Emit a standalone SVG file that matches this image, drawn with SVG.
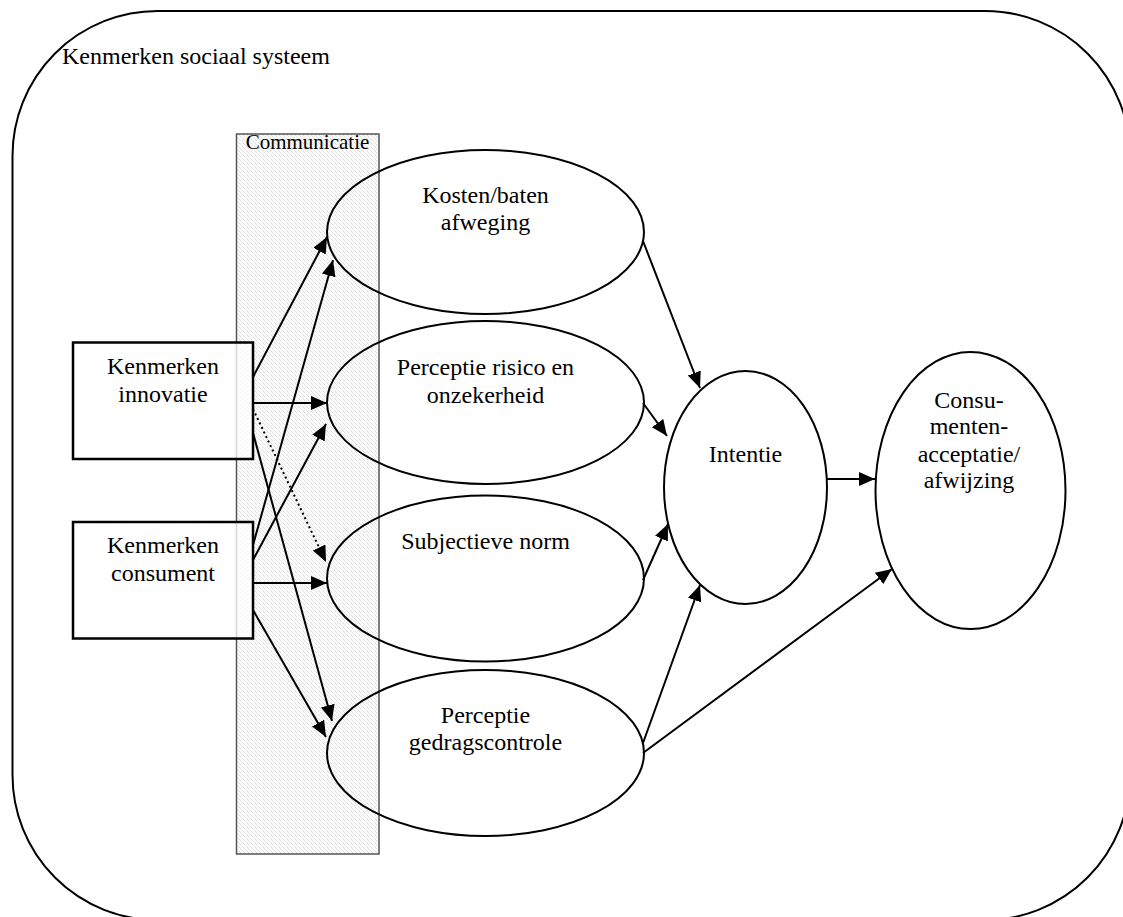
<svg xmlns="http://www.w3.org/2000/svg" width="1123" height="917" viewBox="0 0 1123 917">
<style>
.t{font-family:"Liberation Serif","Times New Roman",serif;font-size:24px;fill:#000;text-anchor:middle}
.node{fill:none;stroke:#000;stroke-width:2}
.box{fill:#fff;fill-opacity:0.75;stroke:#000;stroke-width:2.5}
.c{stroke:#000;stroke-width:2;fill:none}
.dot{stroke-dasharray:2,3}
</style>
<defs>
<pattern id="hatch" patternUnits="userSpaceOnUse" width="4" height="4">
<rect width="4" height="4" fill="#fbfbfb"/>
<path d="M-1,-1 L5,5" stroke="#bdbdbd" stroke-width="0.7" stroke-dasharray="1,1"/>
</pattern>
<marker id="ah" markerUnits="userSpaceOnUse" markerWidth="17" markerHeight="15" refX="16" refY="7" orient="auto">
<path d="M0,0 L16,7 L0,14 z" fill="#000"/>
</marker>
</defs>
<rect x="0" y="0" width="1123" height="917" fill="#fff"/>
<g id="sociaal-systeem">
<rect x="12.5" y="11" width="1117.5" height="909" rx="145" ry="145" fill="none" stroke="#000" stroke-width="2"/>
<text x="62" y="64" class="t" style="text-anchor:start">Kenmerken sociaal systeem</text>
</g>
<g id="communicatie">
<rect x="236.5" y="134" width="142.5" height="720" fill="url(#hatch)" stroke="#555" stroke-width="1.5"/>
<text x="307.5" y="149" class="t" style="font-size:21px">Communicatie</text>
</g>
<g id="kenmerken-innovatie">
<rect x="73" y="342.5" width="180" height="116.5" class="box"/>
<text x="163" y="374" class="t">Kenmerken</text>
<text x="163" y="401.5" class="t">innovatie</text>
</g>
<g id="kenmerken-consument">
<rect x="73" y="522" width="180" height="116.5" class="box"/>
<text x="163" y="553" class="t">Kenmerken</text>
<text x="163" y="580.5" class="t">consument</text>
</g>
<g id="kosten-baten">
<ellipse cx="485.5" cy="232" rx="158.5" ry="82" class="node"/>
<text x="485.5" y="203" class="t">Kosten/baten</text>
<text x="485.5" y="230" class="t">afweging</text>
</g>
<g id="perceptie-risico">
<ellipse cx="485.5" cy="402.5" rx="158.5" ry="81.5" class="node"/>
<text x="485.5" y="375" class="t">Perceptie risico en</text>
<text x="485.5" y="402.5" class="t">onzekerheid</text>
</g>
<g id="subjectieve-norm">
<ellipse cx="485.5" cy="578.5" rx="158.5" ry="83" class="node"/>
<text x="485.5" y="549" class="t">Subjectieve norm</text>
</g>
<g id="perceptie-gedragscontrole">
<ellipse cx="485.5" cy="753" rx="158.5" ry="83" class="node"/>
<text x="485.5" y="722.5" class="t">Perceptie</text>
<text x="485.5" y="750" class="t">gedragscontrole</text>
</g>
<g id="intentie">
<ellipse cx="745.5" cy="487.5" rx="81.5" ry="116.5" class="node"/>
<text x="745.5" y="462" class="t">Intentie</text>
</g>
<g id="consumentenacceptatie">
<ellipse cx="970.5" cy="490.5" rx="95" ry="138.5" class="node"/>
<text x="969" y="407.5" class="t">Consu-</text>
<text x="969" y="434" class="t">menten-</text>
<text x="969" y="462" class="t">acceptatie/</text>
<text x="969" y="488" class="t">afwijzing</text>
</g>
<g id="connectors">
<line x1="253" y1="377" x2="327" y2="237" class="c" marker-end="url(#ah)"/>
<line x1="253" y1="403" x2="327" y2="403" class="c" marker-end="url(#ah)"/>
<line x1="253" y1="409" x2="326" y2="562" class="c dot" marker-end="url(#ah)"/>
<line x1="253" y1="433" x2="332" y2="721" class="c" marker-end="url(#ah)"/>
<line x1="253" y1="545" x2="333" y2="260" class="c" marker-end="url(#ah)"/>
<line x1="253" y1="560" x2="326" y2="424" class="c" marker-end="url(#ah)"/>
<line x1="253" y1="583" x2="327" y2="583" class="c" marker-end="url(#ah)"/>
<line x1="253" y1="610" x2="326" y2="737" class="c" marker-end="url(#ah)"/>
<line x1="643" y1="241" x2="700" y2="388" class="c" marker-end="url(#ah)"/>
<line x1="643" y1="403" x2="667" y2="436" class="c" marker-end="url(#ah)"/>
<line x1="643" y1="580" x2="668" y2="524" class="c" marker-end="url(#ah)"/>
<line x1="643" y1="743" x2="700" y2="585" class="c" marker-end="url(#ah)"/>
<line x1="827" y1="479" x2="875" y2="479" class="c" marker-end="url(#ah)"/>
<line x1="643" y1="753" x2="892" y2="569" class="c" marker-end="url(#ah)"/>
</g>
</svg>
